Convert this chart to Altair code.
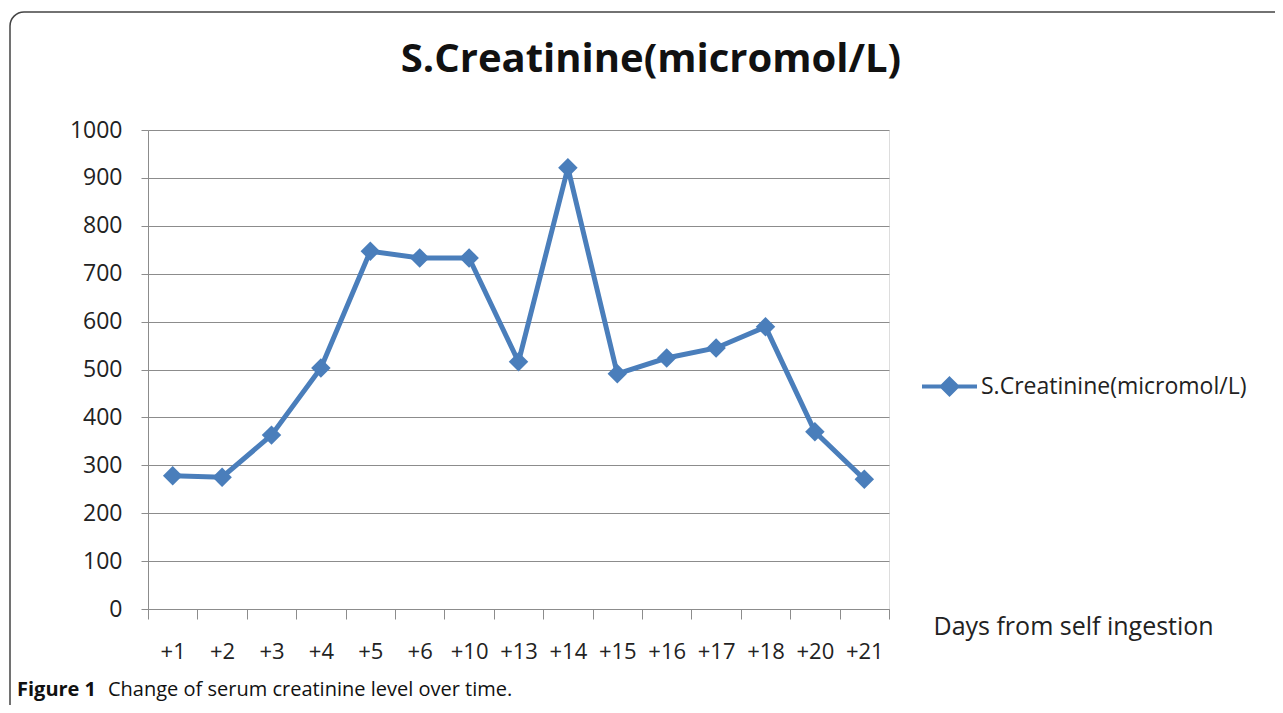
import altair as alt
import pandas as pd

days = ["+1", "+2", "+3", "+4", "+5", "+6", "+10", "+13", "+14", "+15", "+16", "+17", "+18", "+20", "+21"]
creatinine = [278, 275, 363, 503, 747, 733, 733, 516, 921, 491, 524, 545, 589, 370, 271]
series_name = "S.Creatinine(micromol/L)"
y_ticks = [0, 100, 200, 300, 400, 500, 600, 700, 800, 900, 1000]

BLUE = "#4A7EBB"
FONT = "Open Sans"

df = pd.DataFrame({"day": days, "value": creatinine, "series": [series_name] * len(days)})

W, H = 741, 479
PAD_L, PAD_T = 140, 122

x_enc = alt.X(
    "day:N", sort=days, bandPosition=0.5,
    scale=alt.Scale(type="band", paddingInner=0, paddingOuter=0),
    axis=alt.Axis(
        title="Days from self ingestion", labelAngle=0, labelFontSize=22, labelFont=FONT,
        labelColor="#222", labelPadding=22, tickBand="extent", tickSize=10,
        tickColor="#8c8c8c", domainColor="#8c8c8c", grid=False,
        titleFont=FONT, titleFontSize=25, titleFontWeight="normal", titleColor="#222",
        titleX=785, titleY=17, titleAlign="left", titleBaseline="middle",
    ),
)
y_enc = alt.Y(
    "value:Q", scale=alt.Scale(domain=[0, 1000], nice=False),
    axis=alt.Axis(
        title=None, values=y_ticks, format="d", labelFontSize=23, labelFont=FONT,
        labelColor="#222", labelPadding=19, tickSize=7, tickColor="#8c8c8c",
        domainColor="#8c8c8c", grid=True, gridColor="#8c8c8c", gridWidth=1,
    ),
)

base = alt.Chart(df)

line = base.mark_line(strokeWidth=5).encode(
    x=x_enc, y=y_enc,
    color=alt.Color(
        "series:N", scale=alt.Scale(range=[BLUE]),
        legend=alt.Legend(
            title=None, orient="none", legendX=772, legendY=227, padding=0,
            symbolType="M-1,0L1,0M0,-0.28L0.28,0L0,0.28L-0.28,0Z",
            symbolSize=3025, symbolStrokeWidth=4, symbolFillColor=BLUE,
            symbolStrokeColor=BLUE, labelFontSize=23, labelFont=FONT,
            labelColor="#222", labelOffset=2, labelLimit=400,
        ),
    ),
)
points = base.mark_point(shape="diamond", filled=True, size=380, opacity=1, color=BLUE).encode(
    x=x_enc, y=y_enc,
)

one = alt.Data(values=[{}])
frame = alt.Chart(one).mark_rect(
    fill=None, stroke="#444", strokeWidth=1.5, cornerRadius=14
).encode(
    x=alt.value(-138), x2=alt.value(1160), y=alt.value(-118), y2=alt.value(620)
)
title_txt = alt.Chart(one).mark_text(
    text=series_name, font=FONT, fontSize=40, fontWeight="bold", align="center",
    baseline="middle", color="#111"
).encode(x=alt.value(503), y=alt.value(-70))
cap_bold = alt.Chart(one).mark_text(
    text="Figure 1", font=FONT, fontSize=20, fontWeight="bold", align="left",
    baseline="middle", color="#111"
).encode(x=alt.value(-131), y=alt.value(560))
cap_rest = alt.Chart(one).mark_text(
    text="Change of serum creatinine level over time.", font=FONT, fontSize=20,
    align="left", baseline="middle", color="#111"
).encode(x=alt.value(-40), y=alt.value(560))

chart = alt.layer(frame, title_txt, line, points, cap_bold, cap_rest).properties(
    width=W, height=H,
    autosize=alt.AutoSizeParams(type="none"),
    padding={"left": PAD_L, "top": PAD_T, "right": 386, "bottom": 96},
).configure_view(stroke=None).configure(background="white")

chart.save("out.html", embed_options={"renderer": "svg", "actions": False})
